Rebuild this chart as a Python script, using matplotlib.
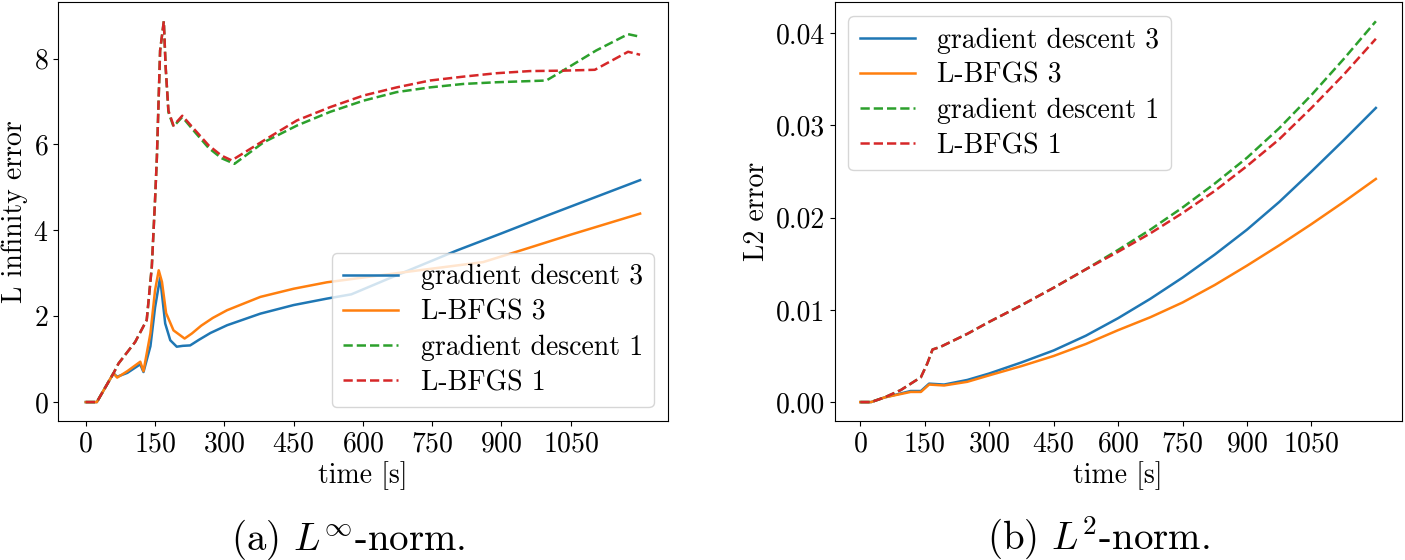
import matplotlib
matplotlib.use("Agg")
import matplotlib.pyplot as plt
import numpy as np

plt.rcParams['font.family'] = 'cmr10'
plt.rcParams['mathtext.fontset'] = 'cm'
plt.rcParams['axes.unicode_minus'] = False
plt.rcParams['axes.formatter.use_mathtext'] = True

# ---- L infinity norm (left) ----
linf_gd3_t = [0, 24, 60, 68, 90, 118, 125, 140, 150, 161, 172, 183, 197, 210, 226, 245, 270,
              306, 378, 450, 522, 575, 650, 803, 900, 1000, 1100, 1200]
linf_gd3_v = [0, 0, 0.67, 0.59, 0.68, 0.88, 0.70, 1.3, 2.2, 2.9, 1.83, 1.44, 1.29, 1.31, 1.32,
              1.45, 1.61, 1.79, 2.06, 2.26, 2.41, 2.51, 2.85, 3.53, 3.93, 4.35, 4.76, 5.17]

linf_lb3_t = [0, 24, 60, 68, 90, 118, 125, 140, 150, 158, 165, 174, 190, 214, 230, 250, 275,
              306, 378, 450, 522, 600, 700, 860, 950, 1050, 1200]
linf_lb3_v = [0, 0, 0.67, 0.57, 0.72, 0.94, 0.72, 1.6, 2.6, 3.07, 2.8, 2.07, 1.67, 1.48, 1.60,
              1.78, 1.96, 2.14, 2.45, 2.64, 2.79, 2.90, 3.04, 3.26, 3.56, 3.90, 4.39]

linf_gd1_t = [0, 24, 60, 71, 107, 132, 143, 150, 154, 161, 169, 173, 179, 190, 209, 237, 266,
              294, 322, 385, 457, 529, 601, 673, 745, 817, 889, 997, 1033, 1105, 1174, 1200]
linf_gd1_v = [0, 0, 0.67, 0.90, 1.40, 1.91, 3.15, 4.70, 5.70, 8.19, 8.87, 7.80, 6.75, 6.42,
              6.64, 6.28, 5.92, 5.68, 5.55, 6.05, 6.44, 6.76, 7.02, 7.22, 7.33, 7.41, 7.45,
              7.49, 7.72, 8.19, 8.57, 8.51]

linf_lb1_t = [0, 24, 60, 71, 107, 132, 143, 150, 154, 161, 169, 173, 179, 190, 209, 237, 266,
              294, 316, 385, 457, 529, 601, 673, 745, 817, 889, 961, 1033, 1102, 1174, 1200]
linf_lb1_v = [0, 0, 0.67, 0.90, 1.40, 1.91, 3.15, 4.70, 5.70, 8.19, 8.87, 7.80, 6.79, 6.44,
              6.67, 6.33, 5.98, 5.74, 5.63, 6.09, 6.56, 6.87, 7.14, 7.33, 7.49, 7.58, 7.66,
              7.71, 7.72, 7.74, 8.16, 8.09]

# ---- L2 norm (right) ----
l2_sol_t = [0, 25, 56, 117, 141, 160, 195, 249, 300, 375, 450, 525, 600, 675, 750, 825, 900,
            975, 1050, 1125, 1200]
l2_gd3_v = [0, 0, 0.0005, 0.0012, 0.0012, 0.0020, 0.0019, 0.0024, 0.0031, 0.0043, 0.0056,
            0.0072, 0.0091, 0.0112, 0.0135, 0.0160, 0.0187, 0.0217, 0.0250, 0.0284, 0.0319]
l2_lb3_v = [0, 0, 0.0005, 0.0011, 0.0011, 0.0019, 0.0018, 0.0022, 0.0029, 0.0039, 0.0050,
            0.0063, 0.0078, 0.0092, 0.0108, 0.0127, 0.0148, 0.0170, 0.0193, 0.0217, 0.0242]

l2_dash_t = [0, 25, 56, 94, 141, 156, 168, 187, 249, 300, 375, 450, 525, 600, 675, 750, 825,
             900, 975, 1050, 1125, 1200]
l2_gd1_v = [0, 0, 0.0005, 0.0013, 0.0027, 0.0042, 0.0057, 0.0060, 0.0074, 0.0087, 0.0105,
            0.0124, 0.0144, 0.0165, 0.0187, 0.0211, 0.0237, 0.0265, 0.0297, 0.0333, 0.0372,
            0.0413]
l2_lb1_v = [0, 0, 0.0005, 0.0013, 0.0027, 0.0042, 0.0057, 0.0060, 0.0074, 0.0087, 0.0105,
            0.0124, 0.0144, 0.0163, 0.0183, 0.0205, 0.0229, 0.0256, 0.0285, 0.0319, 0.0355,
            0.0394]

labels = ['gradient descent 3', 'L-BFGS 3', 'gradient descent 1', 'L-BFGS 1']
xticks = np.arange(0, 1200, 150)
fs = 20
lw = 1.8

fig = plt.figure(figsize=(14.05, 5.6), dpi=100)
ax1 = fig.add_axes([0.0413, 0.248, 0.434, 0.748])
ax2 = fig.add_axes([0.594, 0.248, 0.4036, 0.748])

ax1.plot(linf_gd3_t, linf_gd3_v, color='tab:blue', lw=lw, label=labels[0])
ax1.plot(linf_lb3_t, linf_lb3_v, color='tab:orange', lw=lw, label=labels[1])
ax1.plot(linf_gd1_t, linf_gd1_v, '--', color='tab:green', lw=lw, label=labels[2])
ax1.plot(linf_lb1_t, linf_lb1_v, '--', color='tab:red', lw=lw, label=labels[3])

ax2.plot(l2_sol_t, l2_gd3_v, color='tab:blue', lw=lw, label=labels[0])
ax2.plot(l2_sol_t, l2_lb3_v, color='tab:orange', lw=lw, label=labels[1])
ax2.plot(l2_dash_t, l2_gd1_v, '--', color='tab:green', lw=lw, label=labels[2])
ax2.plot(l2_dash_t, l2_lb1_v, '--', color='tab:red', lw=lw, label=labels[3])

for ax in (ax1, ax2):
    ax.set_xticks(xticks)
    ax.tick_params(labelsize=fs)
    ax.set_xlabel('time [s]', fontsize=fs, labelpad=3)

ax1.set_yticks([0, 2, 4, 6, 8])
ax2.set_yticks([0, 0.01, 0.02, 0.03, 0.04])
ax2.yaxis.set_major_formatter(matplotlib.ticker.FormatStrFormatter('%.2f'))
ax1.set_ylabel('L infinity error', fontsize=fs)
ax2.set_ylabel('L2 error', fontsize=fs)

ax1.legend(loc='lower right', fontsize=fs, handlelength=2, labelspacing=0.32)
ax2.legend(loc='upper left', fontsize=fs, handlelength=2, labelspacing=0.32)

fig.text(0.248, 0.018, r'(a) $L^\infty$-norm.', fontsize=28, ha='center', va='baseline')
fig.text(0.782, 0.018, r'(b) $L^2$-norm.', fontsize=28, ha='center', va='baseline')

fig.savefig('out.png', dpi=100)
